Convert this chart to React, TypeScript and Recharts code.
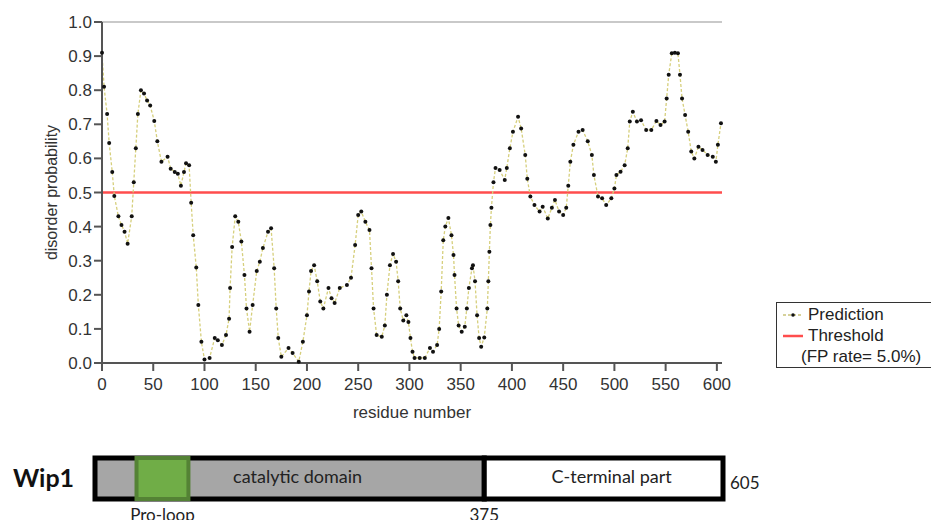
import {
  ComposedChart,
  Line,
  XAxis,
  YAxis,
  ReferenceLine,
  ReferenceArea,
  Legend,
} from "recharts";

// residue positions and disorder probability
const RESIDUES = [
  0, 2, 5, 7, 10, 12, 16, 19, 22, 25, 29, 31, 33, 35, 38, 41, 44, 47, 51, 54,
  58, 64, 67, 71, 74, 77, 80, 82, 85, 87, 89, 92, 94, 97, 100, 105, 110, 113,
  117, 121, 124, 125, 127, 130, 133, 136, 139, 141, 144, 147, 151, 154, 157,
  162, 165, 168, 170, 172, 175, 182, 186, 192, 196, 200, 202, 204, 207, 210,
  213, 216, 221, 224, 227, 232, 239, 243, 247, 250, 253, 257, 261, 263, 265,
  268, 273, 276, 278, 281, 284, 287, 289, 291, 294, 297, 299, 301, 303, 305,
  310, 315, 320, 323, 327, 329, 331, 333, 335, 338, 341, 343, 344, 346, 348,
  351, 354, 356, 358, 361, 362, 364, 366, 368, 370, 373, 376, 377, 378, 379,
  380, 382, 384, 388, 393, 395, 398, 401, 406, 409, 413, 415, 418, 422, 427,
  430, 435, 439, 442, 446, 450, 453, 455, 457, 460, 465, 469, 474, 478, 480,
  484, 488, 492, 497, 500, 502, 506, 510, 513, 515, 518, 522, 526, 531, 536,
  541, 545, 549, 551, 553, 556, 559, 562, 564, 566, 569, 572, 575, 578, 582,
  586, 591, 596, 599, 601, 604,
];
const PROBABILITY = [
  0.91, 0.81, 0.73, 0.645, 0.56, 0.49, 0.43, 0.405, 0.385, 0.35, 0.43, 0.53,
  0.63, 0.73, 0.8, 0.79, 0.77, 0.755, 0.71, 0.65, 0.59, 0.605, 0.57, 0.56,
  0.555, 0.52, 0.56, 0.586, 0.58, 0.47, 0.375, 0.28, 0.17, 0.062, 0.01, 0.015,
  0.073, 0.067, 0.053, 0.082, 0.13, 0.22, 0.34, 0.43, 0.414, 0.356, 0.258, 0.16,
  0.092, 0.17, 0.27, 0.297, 0.337, 0.385, 0.395, 0.278, 0.16, 0.073, 0.018,
  0.044, 0.029, 0.004, 0.062, 0.14, 0.21, 0.27, 0.287, 0.24, 0.18, 0.16, 0.22,
  0.19, 0.176, 0.22, 0.229, 0.25, 0.346, 0.434, 0.444, 0.414, 0.39, 0.278,
  0.16, 0.082, 0.077, 0.11, 0.2, 0.287, 0.32, 0.297, 0.24, 0.16, 0.125, 0.14,
  0.12, 0.073, 0.033, 0.015, 0.015, 0.015, 0.044, 0.033, 0.053, 0.1, 0.21,
  0.36, 0.4, 0.425, 0.375, 0.317, 0.258, 0.16, 0.11, 0.092, 0.106, 0.16, 0.22,
  0.278, 0.287, 0.24, 0.14, 0.073, 0.048, 0.075, 0.16, 0.24, 0.326, 0.405,
  0.455, 0.53, 0.572, 0.566, 0.537, 0.572, 0.63, 0.678, 0.722, 0.688, 0.61,
  0.54, 0.488, 0.463, 0.444, 0.458, 0.424, 0.455, 0.478, 0.444, 0.434, 0.455,
  0.52, 0.59, 0.64, 0.678, 0.683, 0.65, 0.61, 0.551, 0.488, 0.483, 0.463,
  0.483, 0.512, 0.551, 0.561, 0.58, 0.63, 0.708, 0.737, 0.708, 0.712, 0.683,
  0.683, 0.71, 0.698, 0.708, 0.776, 0.845, 0.908, 0.91, 0.908, 0.845, 0.776,
  0.727, 0.678, 0.62, 0.6, 0.634, 0.625, 0.61, 0.605, 0.59, 0.64, 0.703,
];
const X_TICKS = [0, 50, 100, 150, 200, 250, 300, 350, 400, 450, 500, 550, 600];
const Y_TICKS = [0, 0.1, 0.2, 0.3, 0.4, 0.5, 0.6, 0.7, 0.8, 0.9, 1];
const THRESHOLD = 0.5;
const SEQ_LENGTH = 605;

// Wip1 domain schematic
const DOMAIN_NAMES = ["catalytic domain", "C-terminal part"];
const DOMAIN_STARTS = [0, 375];
const DOMAIN_ENDS = [375, 605];
const DOMAIN_FILLS = ["#a6a6a6", "#ffffff"];
const PRO_LOOP = [40, 90];

const AXIS_FONT = "'Liberation Sans', Arial, sans-serif";
const BOX_FONT = "Lato, 'Open Sans', sans-serif";

function LegendBox() {
  return (
    <div
      style={{
        border: "1.5px solid #333",
        width: 175,
        height: 66,
        boxSizing: "border-box",
        padding: "1px 0 0 6px",
        fontFamily: AXIS_FONT,
        fontSize: 17,
        lineHeight: "21px",
        color: "#222",
      }}
    >
      <div style={{ display: "flex", alignItems: "center" }}>
        <svg width={20} height={10} style={{ marginRight: 5 }}>
          <line x1={0} y1={5} x2={20} y2={5} stroke="#c9c27a" strokeWidth={1.3} strokeDasharray="3 2" />
          <circle cx={10} cy={5} r={1.8} fill="#111" />
        </svg>
        Prediction
      </div>
      <div style={{ display: "flex", alignItems: "center" }}>
        <svg width={20} height={10} style={{ marginRight: 5 }}>
          <line x1={0} y1={5} x2={20} y2={5} stroke="#ff4d4d" strokeWidth={2.5} />
        </svg>
        Threshold
      </div>
      <div style={{ paddingLeft: 18 }}>(FP rate= 5.0%)</div>
    </div>
  );
}

export default function App() {
  const data = RESIDUES.map((r, i) => ({ residue: r, prediction: PROBABILITY[i] }));
  const domains = DOMAIN_NAMES.map((name, i) => ({
    name,
    start: DOMAIN_STARTS[i],
    end: DOMAIN_ENDS[i],
  }));

  return (
    <div
      style={{
        position: "relative",
        margin: -8,
        width: 939,
        height: 528,
        overflow: "hidden",
        background: "#fff",
      }}
    >
      <div style={{ position: "absolute", left: 0, top: 0 }}>
        <ComposedChart
          width={939}
          height={440}
          data={data}
          margin={{ top: 22, right: 217, bottom: 22, left: 0 }}
        >
          <XAxis
            dataKey="residue"
            type="number"
            domain={[0, SEQ_LENGTH]}
            ticks={X_TICKS}
            height={55}
            tickSize={8}
            tickMargin={7}
            axisLine={{ stroke: "#555", strokeWidth: 2 }}
            tickLine={{ stroke: "#555", strokeWidth: 2 }}
            tick={{ fill: "#333", fontSize: 17, fontFamily: AXIS_FONT }}
            label={{
              value: "residue number",
              position: "insideBottom",
              offset: 0,
              fill: "#333",
              fontSize: 17,
              fontFamily: AXIS_FONT,
            }}
          />
          <YAxis
            type="number"
            domain={[0, 1]}
            ticks={Y_TICKS}
            tickFormatter={(v: number) => v.toFixed(1)}
            width={102}
            tickSize={8}
            tickMargin={2}
            axisLine={{ stroke: "#555", strokeWidth: 2 }}
            tickLine={{ stroke: "#555", strokeWidth: 2 }}
            tick={{ fill: "#333", fontSize: 17, fontFamily: AXIS_FONT }}
            label={{
              value: "disorder probability",
              angle: -90,
              position: "center",
              fill: "#333",
              fontSize: 16,
              fontFamily: AXIS_FONT,
            }}
          />
          <ReferenceLine y={1} stroke="#c9c9c9" strokeWidth={2} />
          <ReferenceLine y={THRESHOLD} stroke="#ff4d4d" strokeWidth={2.5} />
          <Line
            type="linear"
            dataKey="prediction"
            stroke="#d6cf7c"
            strokeWidth={1.3}
            strokeDasharray="3 2"
            dot={{ r: 2, fill: "#111", stroke: "#111", strokeWidth: 0 }}
            activeDot={false}
            isAnimationActive={false}
          />
          <Legend
            layout="vertical"
            align="center"
            verticalAlign="middle"
            wrapperStyle={{ left: 776, top: 302, width: 175 }}
            content={() => <LegendBox />}
          />
        </ComposedChart>
      </div>

      <div style={{ position: "absolute", left: 0, top: 440 }}>
        <ComposedChart
          width={939}
          height={88}
          data={domains}
          margin={{ top: 18, right: 216, bottom: 29, left: 0 }}
        >
          <XAxis dataKey="start" type="number" domain={[0, SEQ_LENGTH]} hide />
          <YAxis
            type="number"
            domain={[0, 1]}
            allowDataOverflow
            width={95}
            axisLine={false}
            tickLine={false}
            tick={false}
            label={{
              value: "Wip1",
              position: "center",
              dx: -4,
              fill: "#111",
              fontSize: 25,
              fontWeight: 700,
              fontFamily: BOX_FONT,
            }}
          />
          {/* invisible series so the chart builds its axis scales */}
          <Line
            dataKey="end"
            stroke="none"
            dot={false}
            activeDot={false}
            legendType="none"
            isAnimationActive={false}
          />
          {domains.map((d, i) => (
            <ReferenceArea
              key={d.name}
              x1={d.start}
              x2={d.end}
              y1={0}
              y2={1}
              fill={DOMAIN_FILLS[i]}
              fillOpacity={1}
              stroke="#000"
              strokeWidth={5}
              ifOverflow="visible"
              label={{
                value: d.name,
                position: "center",
                dx: 8,
                dy: -2,
                fill: "#222",
                fontSize: 18,
                fontFamily: BOX_FONT,
              }}
            />
          ))}
          <ReferenceArea
            x1={PRO_LOOP[0]}
            x2={PRO_LOOP[1]}
            y1={0}
            y2={1}
            fill="#70ad47"
            fillOpacity={1}
            stroke="#548235"
            strokeWidth={4}
            ifOverflow="visible"
            label={{
              value: "Pro-loop",
              position: "bottom",
              offset: 10,
              fill: "#222",
              fontSize: 17,
              fontFamily: BOX_FONT,
            }}
          />
          <ReferenceLine
            x={DOMAIN_ENDS[0]}
            stroke="none"
            ifOverflow="visible"
            label={{
              value: String(DOMAIN_ENDS[0]),
              position: "bottom",
              offset: 10,
              fill: "#222",
              fontSize: 17,
              fontFamily: BOX_FONT,
            }}
          />
          <ReferenceLine
            x={SEQ_LENGTH}
            stroke="none"
            ifOverflow="visible"
            label={{
              value: String(SEQ_LENGTH),
              position: "right",
              offset: 7,
              dy: 4,
              fill: "#222",
              fontSize: 17,
              fontFamily: BOX_FONT,
            }}
          />
        </ComposedChart>
      </div>
    </div>
  );
}
